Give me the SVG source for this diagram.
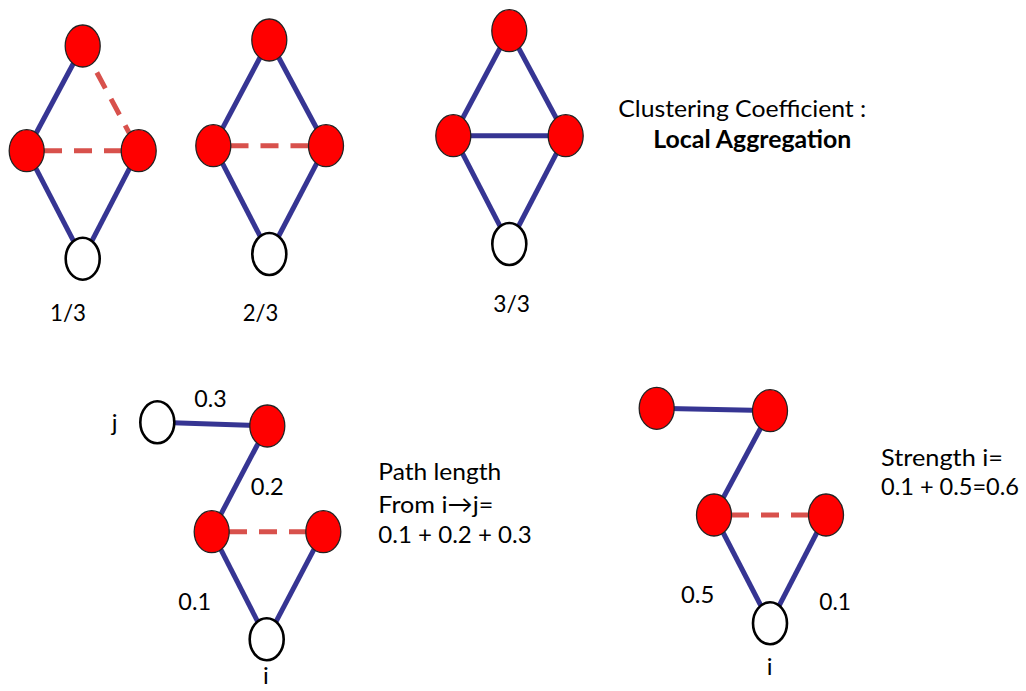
<svg xmlns="http://www.w3.org/2000/svg" width="1026" height="691" viewBox="0 0 1026 691">
<style>
.e{stroke:#363593;stroke-width:5;fill:none}
.d{stroke:#D8514C;stroke-width:5;fill:none;stroke-dasharray:18 12}
.r{fill:#FF0000;stroke:#222;stroke-width:1.3}
.w{fill:#FFFFFF;stroke:#000;stroke-width:2.6}
text{font-family:Lato,"Open Sans","Liberation Sans",sans-serif;font-size:24px;fill:#000}
.b{font-weight:bold}
</style>
<rect width="1026" height="691" fill="#fff"/>
<g id="connectors">
<line class="e" x1="82.7" y1="46" x2="26.7" y2="150.7"/>
<line class="e" x1="26.7" y1="150.7" x2="82.7" y2="258.7"/>
<line class="e" x1="138.7" y1="150.7" x2="82.7" y2="258.7"/>
<line class="d" x1="82.7" y1="46" x2="138.7" y2="150.7"/>
<line class="d" x1="44" y1="150.7" x2="138.7" y2="150.7"/>
<line class="e" x1="269.3" y1="40" x2="213.3" y2="145.7"/>
<line class="e" x1="269.3" y1="40" x2="326" y2="145.7"/>
<line class="e" x1="213.3" y1="145.7" x2="269.3" y2="254"/>
<line class="e" x1="326" y1="145.7" x2="269.3" y2="254"/>
<line class="d" x1="230.5" y1="145.7" x2="326" y2="145.7"/>
<line class="e" x1="509.3" y1="30.7" x2="453.3" y2="135.7"/>
<line class="e" x1="509.3" y1="30.7" x2="565.7" y2="135.7"/>
<line class="e" x1="453.3" y1="135.7" x2="565.7" y2="135.7"/>
<line class="e" x1="453.3" y1="135.7" x2="509.3" y2="244"/>
<line class="e" x1="565.7" y1="135.7" x2="509.3" y2="244"/>
<line class="e" x1="157.3" y1="422.3" x2="267.3" y2="426"/>
<line class="e" x1="267.3" y1="426" x2="211.7" y2="531.7"/>
<line class="e" x1="211.7" y1="531.7" x2="266.7" y2="639.3"/>
<line class="e" x1="323.3" y1="531.7" x2="266.7" y2="639.3"/>
<line class="d" x1="229" y1="531.7" x2="323.3" y2="531.7"/>
<line class="e" x1="656.7" y1="408.3" x2="770" y2="410.7"/>
<line class="e" x1="770" y1="410.7" x2="714" y2="515"/>
<line class="e" x1="714" y1="515" x2="770" y2="623.3"/>
<line class="e" x1="826" y1="515" x2="770" y2="623.3"/>
<line class="d" x1="731" y1="515" x2="826" y2="515"/>
</g>
<g id="g1-top"><ellipse class="r" cx="82.7" cy="46" rx="17.5" ry="21"/></g>
<g id="g1-left"><ellipse class="r" cx="26.7" cy="150.7" rx="17.5" ry="21"/></g>
<g id="g1-right"><ellipse class="r" cx="138.7" cy="150.7" rx="17.5" ry="21"/></g>
<g id="g1-bottom"><ellipse class="w" cx="82.7" cy="258.7" rx="17" ry="21"/></g>
<g id="g2-top"><ellipse class="r" cx="269.3" cy="40" rx="17.5" ry="21"/></g>
<g id="g2-left"><ellipse class="r" cx="213.3" cy="145.7" rx="17.5" ry="21"/></g>
<g id="g2-right"><ellipse class="r" cx="326" cy="145.7" rx="17.5" ry="21"/></g>
<g id="g2-bottom"><ellipse class="w" cx="269.3" cy="254" rx="17" ry="21"/></g>
<g id="g3-top"><ellipse class="r" cx="509.3" cy="30.7" rx="17.5" ry="21"/></g>
<g id="g3-left"><ellipse class="r" cx="453.3" cy="135.7" rx="17.5" ry="21"/></g>
<g id="g3-right"><ellipse class="r" cx="565.7" cy="135.7" rx="17.5" ry="21"/></g>
<g id="g3-bottom"><ellipse class="w" cx="509.3" cy="244" rx="17" ry="21"/></g>
<g id="p-j"><ellipse class="w" cx="157.3" cy="422.3" rx="17" ry="21"/><text x="111.7" y="431">j</text></g>
<g id="p-top"><ellipse class="r" cx="267.3" cy="426" rx="17.5" ry="21"/></g>
<g id="p-left"><ellipse class="r" cx="211.7" cy="531.7" rx="17.5" ry="21"/></g>
<g id="p-right"><ellipse class="r" cx="323.3" cy="531.7" rx="17.5" ry="21"/></g>
<g id="p-i"><ellipse class="w" cx="266.7" cy="639.3" rx="17" ry="21"/><text x="263" y="684">i</text></g>
<g id="s-tl"><ellipse class="r" cx="656.7" cy="408.3" rx="17.5" ry="21"/></g>
<g id="s-tr"><ellipse class="r" cx="770" cy="410.7" rx="17.5" ry="21"/></g>
<g id="s-left"><ellipse class="r" cx="714" cy="515" rx="17.5" ry="21"/></g>
<g id="s-right"><ellipse class="r" cx="826" cy="515" rx="17.5" ry="21"/></g>
<g id="s-i"><ellipse class="w" cx="770" cy="623.3" rx="17" ry="21"/><text x="766.7" y="675">i</text></g>
<g id="labels">
<text x="50" y="321" textLength="36" lengthAdjust="spacingAndGlyphs">1/3</text>
<text x="242.7" y="321" textLength="35.6" lengthAdjust="spacingAndGlyphs">2/3</text>
<text x="493.3" y="311.7" textLength="36.7" lengthAdjust="spacingAndGlyphs">3/3</text>
<text x="618.3" y="116.7" textLength="248" lengthAdjust="spacingAndGlyphs">Clustering Coefficient :</text>
<text class="b" x="653.3" y="148.3" textLength="198" lengthAdjust="spacingAndGlyphs">Local Aggregation</text>
<text x="194.3" y="407" textLength="32.4" lengthAdjust="spacingAndGlyphs">0.3</text>
<text x="250.7" y="495" textLength="33" lengthAdjust="spacingAndGlyphs">0.2</text>
<text x="178.3" y="610" textLength="32.7" lengthAdjust="spacingAndGlyphs">0.1</text>
<text x="378.3" y="479.5" textLength="123" lengthAdjust="spacingAndGlyphs">Path length</text>
<text x="378.3" y="512.7" textLength="115" lengthAdjust="spacingAndGlyphs">From i→j=</text>
<text x="378.3" y="543.3" textLength="153.4" lengthAdjust="spacingAndGlyphs">0.1 + 0.2 + 0.3</text>
<text x="881" y="465.7" textLength="122" lengthAdjust="spacingAndGlyphs">Strength i=</text>
<text x="881" y="495.3" textLength="138" lengthAdjust="spacingAndGlyphs">0.1 + 0.5=0.6</text>
<text x="681" y="603.3" textLength="33.3" lengthAdjust="spacingAndGlyphs">0.5</text>
<text x="819.3" y="610" textLength="31.7" lengthAdjust="spacingAndGlyphs">0.1</text>
</g>
</svg>
